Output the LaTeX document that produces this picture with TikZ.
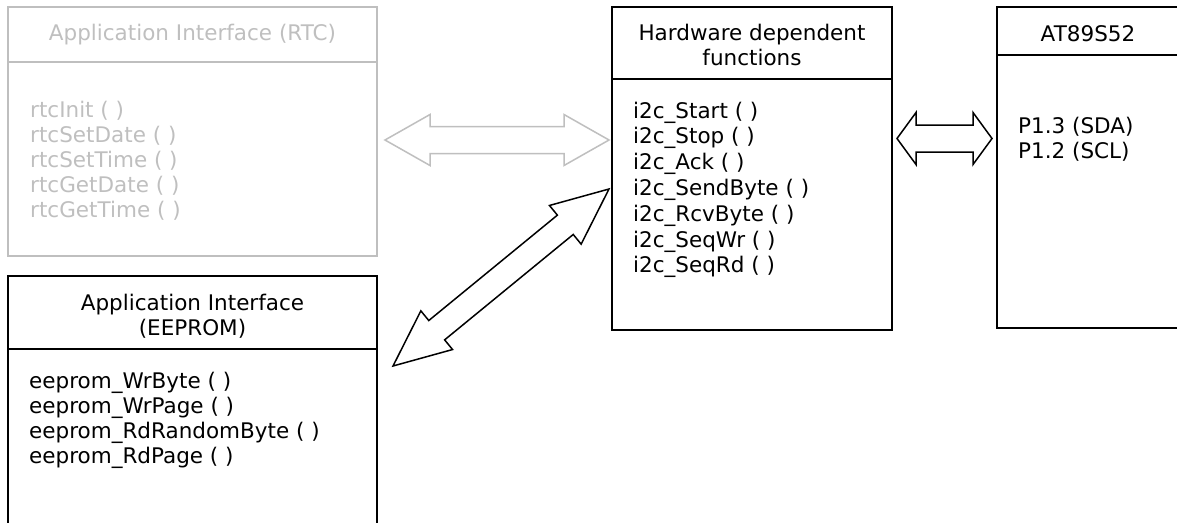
\documentclass[tikz,border=0pt]{standalone}
\usepackage{fontspec}
\setmainfont{DejaVu Sans}
\usetikzlibrary{calc}
\definecolor{lightg}{RGB}{191,191,191}
\tikzset{
  box/.style={draw, line width=1.5pt, inner sep=0pt, outer sep=0pt, rectangle, anchor=north west},
  gbox/.style={box, draw=lightg},
  txt/.style={inner sep=0pt, anchor=base west, font=\fontsize{21.5}{25.5}\selectfont},
  ttl/.style={inner sep=0pt, anchor=base, font=\fontsize{21.5}{25.5}\selectfont},
  blk/.style={draw=black, line width=1.5pt, fill=white},
  gblk/.style={draw=lightg, line width=1.5pt, fill=white}
}
\newcommand\blockarrow[6]{%
  \draw[#1] (#2) -- ($(#2)!#4!(#3)!#6!90:(#3)$) -- ($(#2)!#4!(#3)!#5!90:(#3)$)
    -- ($(#3)!#4!(#2)!#5!-90:(#2)$) -- ($(#3)!#4!(#2)!#6!-90:(#2)$) -- (#3)
    -- ($(#3)!#4!(#2)!#6!90:(#2)$) -- ($(#3)!#4!(#2)!#5!90:(#2)$)
    -- ($(#2)!#4!(#3)!#5!-90:(#3)$) -- ($(#2)!#4!(#3)!#6!-90:(#3)$) -- cycle;}
\begin{document}
\begin{tikzpicture}[x=1pt,y=-1pt]
\useasboundingbox (0,0) rectangle (1177,522);
\clip (0,0) rectangle (1177,522);
% RTC (grey)
\node[gbox, minimum width=369pt, minimum height=55pt] (rtch) at (8,7) {};
\node[gbox, minimum width=369pt, minimum height=194pt] (rtcb) at (8,62) {};
\node[ttl, text=lightg] (rtct) at (192.5,40) {Application Interface (RTC)};
\foreach \t [count=\i from 0] in {rtcInit ( ), rtcSetDate ( ), rtcSetTime ( ), rtcGetDate ( ), rtcGetTime ( )}
  \node[txt, text=lightg] (rtc\i) at (30,117+25*\i) {\t};
% EEPROM
\node[box, minimum width=369pt, minimum height=73pt] (eeh) at (8,276) {};
\node[box, minimum width=369pt, minimum height=200pt] (eeb) at (8,349) {};
\node[ttl] (eet1) at (192.5,310) {Application Interface};
\node[ttl] (eet2) at (192.5,335) {(EEPROM)};
\foreach \t [count=\i from 0] in {eeprom\_WrByte ( ), eeprom\_WrPage ( ), eeprom\_RdRandomByte ( ), eeprom\_RdPage ( )}
  \node[txt] (ee\i) at (29,388+25*\i) {\t};
% Hardware dependent functions
\node[box, minimum width=280pt, minimum height=72pt] (hwh) at (612,7) {};
\node[box, minimum width=280pt, minimum height=251pt] (hwb) at (612,79) {};
\node[ttl] (hwt1) at (752,40) {Hardware dependent};
\node[ttl] (hwt2) at (752,65) {functions};
\foreach \t [count=\i from 0] in {i2c\_Start ( ), i2c\_Stop ( ), i2c\_Ack ( ), i2c\_SendByte ( ), i2c\_RcvByte ( ), i2c\_SeqWr ( ), i2c\_SeqRd ( )}
  \node[txt] (hw\i) at (633,118+25.8*\i) {\t};
% AT89S52
\node[box, minimum width=183pt, minimum height=48pt] (ath) at (997,7) {};
\node[box, minimum width=183pt, minimum height=273pt] (atb) at (997,55) {};
\node[ttl] (att) at (1088,41) {AT89S52};
\node[txt] (at0) at (1018,133) {P1.3 (SDA)};
\node[txt] (at1) at (1018,158) {P1.2 (SCL)};
% arrows
\coordinate (g1) at ([xshift=8pt]rtcb.east |- 0,140);
\coordinate (g2) at ([xshift=-3pt]hwb.west |- 0,140);
\blockarrow{gblk}{g1}{g2}{45pt}{13.5pt}{25.5pt}
\coordinate (b1) at ([xshift=5pt]hwb.east |- 0,138.5);
\coordinate (b2) at ([xshift=-5pt]atb.west |- 0,138.5);
\blockarrow{blk}{b1}{b2}{19pt}{13.5pt}{26pt}
\coordinate (d1) at ([xshift=16pt]eeb.north east |- 0,366);
\coordinate (d2) at ([xshift=-3pt]hwb.west |- 0,189);
\blockarrow{blk}{d1}{d2}{56.5pt}{12.5pt}{25pt}
\end{tikzpicture}
\end{document}
